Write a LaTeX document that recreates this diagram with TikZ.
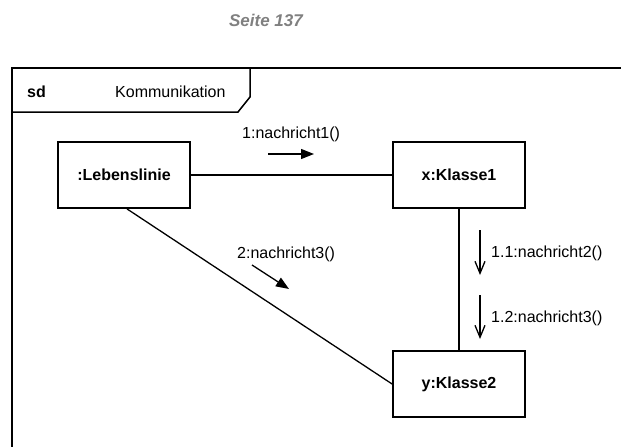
\documentclass[tikz,border=0pt]{standalone}
\usepackage{fontspec}
\setmainfont{Liberation Sans}
\usetikzlibrary{arrows.meta}
\definecolor{seitegray}{RGB}{128,128,128}
\tikzset{
  lifeline/.style={draw, line width=1.8pt, minimum width=132pt, minimum height=66pt, inner sep=0pt, font=\fontsize{16}{18}\selectfont\bfseries},
  link/.style={line width=1.3pt},
  lbl/.style={inner sep=0pt, anchor=base west, font=\fontsize{16}{18}\selectfont},
  filledmsg/.style={line width=1.3pt, -{Triangle[length=13pt,width=10pt]}},
  openmsg/.style={line width=1.3pt, -{Straight Barb[length=12pt,width=10pt]}}
}
\begin{document}
\begin{tikzpicture}[x=1pt,y=-1pt]
\useasboundingbox (0,0) rectangle (621,447);
% title
\node[inner sep=0pt, anchor=base, text=seitegray, font=\fontsize{17}{19}\selectfont\bfseries\itshape] (title) at (266,27) {Seite 137};
% frame
\draw[line width=1.8pt] (621,68) -- (12,68) -- (12,447);
\draw[line width=1.5pt] (12,112) -- (238,112) -- (250,97) -- (250,68);
\node[lbl, font=\fontsize{16}{18}\selectfont\bfseries] (sd) at (27,97) {sd};
\node[lbl] (kom) at (115,97) {Kommunikation};
% lifelines
\node[lifeline] (leb) at (124,175) {:Lebenslinie};
\node[lifeline] (k1) at (459,175) {x:Klasse1};
\node[lifeline] (k2) at (459,384) {y:Klasse2};
% links
\draw[link] (leb.east) -- (k1.west);
\draw[link] (k1.south) -- (k2.north);
\draw[link] ([xshift=3pt]leb.south) -- (k2.west);
% messages
\coordinate (m1s) at (268,154);
\coordinate (m1e) at (314,154);
\draw[filledmsg] (m1s) -- (m1e);
\node[lbl] (m1) at (242,138) {1:nachricht1()};
\coordinate (m2s) at (252,265);
\coordinate (m2e) at (289,289);
\draw[filledmsg] (m2s) -- (m2e);
\node[lbl] (m2) at (237,258) {2:nachricht3()};
\coordinate (m11s) at (480,230);
\coordinate (m11e) at (480,275);
\draw[openmsg] (m11s) -- (m11e);
\node[lbl] (m11) at (491,257) {1.1:nachricht2()};
\coordinate (m12s) at (480,295);
\coordinate (m12e) at (480,339);
\draw[openmsg] (m12s) -- (m12e);
\node[lbl] (m12) at (491,322) {1.2:nachricht3()};
\end{tikzpicture}
\end{document}
